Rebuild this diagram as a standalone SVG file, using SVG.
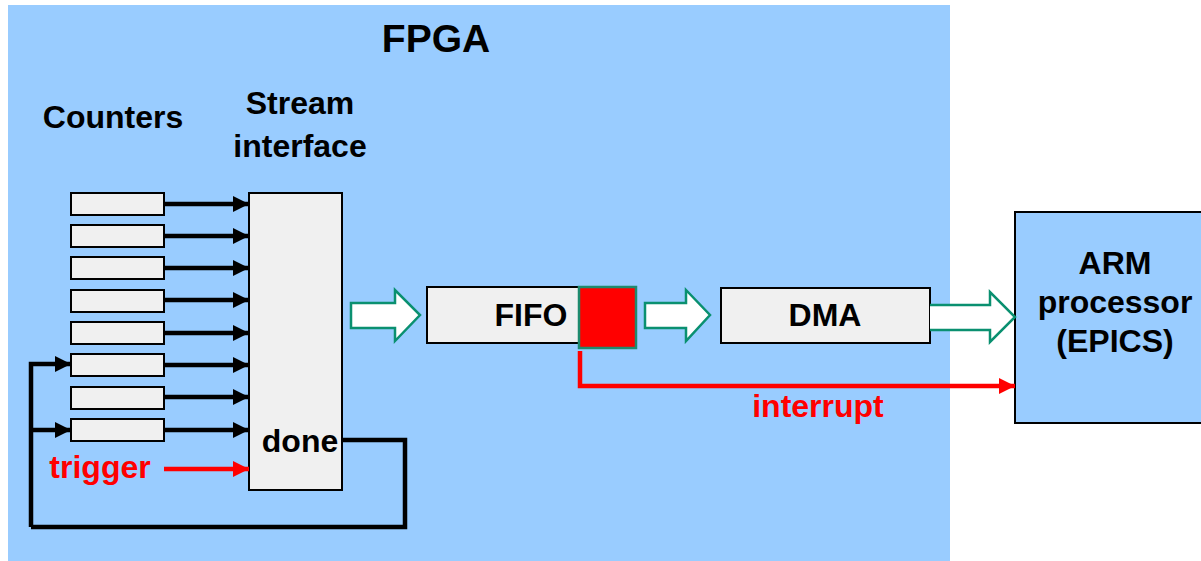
<svg xmlns="http://www.w3.org/2000/svg" width="1201" height="561" viewBox="0 0 1201 561">
<defs>
<style>
text{font-family:"Liberation Sans",Arial,sans-serif;font-weight:bold;font-size:32px;fill:#000}
.red{fill:#ff0000}
.box{fill:#f0f0f0;stroke:#000;stroke-width:2}
.blk{stroke:#000;stroke-width:4.5;fill:none}
.rl{stroke:#ff0000;stroke-width:4.5;fill:none}
.hollow{fill:#ffffff;stroke:#0a9070;stroke-width:2.5;stroke-linejoin:miter}
</style>
<marker id="ah" viewBox="0 0 16 16" refX="16" refY="8" markerWidth="16" markerHeight="16" markerUnits="userSpaceOnUse" orient="auto"><path d="M0,0 L16,8 L0,16 Z" fill="#000"/></marker>
<marker id="ahr" viewBox="0 0 16 16" refX="16" refY="8" markerWidth="16" markerHeight="16" markerUnits="userSpaceOnUse" orient="auto"><path d="M0,0 L16,8 L0,16 Z" fill="#ff0000"/></marker>
</defs>
<rect width="1201" height="561" fill="#ffffff"/>
<g id="fpga">
<rect x="8" y="5" width="942" height="560" fill="#99ccff"/>
<text x="436" y="52" text-anchor="middle" style="font-size:39px">FPGA</text>
</g>
<g id="labels">
<text x="113" y="128" text-anchor="middle">Counters</text>
<text x="300" y="114" text-anchor="middle">Stream</text>
<text x="300" y="157" text-anchor="middle">interface</text>
<text x="100" y="478" text-anchor="middle" class="red">trigger</text>
<text x="818" y="417" text-anchor="middle" class="red">interrupt</text>
</g>
<g id="counters">
<rect class="box" x="71" y="193" width="93" height="22"/>
<rect class="box" x="71" y="225" width="93" height="22"/>
<rect class="box" x="71" y="257" width="93" height="22"/>
<rect class="box" x="71" y="290" width="93" height="22"/>
<rect class="box" x="71" y="322" width="93" height="22"/>
<rect class="box" x="71" y="354" width="93" height="22"/>
<rect class="box" x="71" y="387" width="93" height="22"/>
<rect class="box" x="71" y="419" width="93" height="22"/>
</g>
<g id="stream">
<rect class="box" x="249" y="193" width="93" height="297"/>
<text x="300" y="452" text-anchor="middle">done</text>
</g>
<g id="fifo">
<rect class="box" x="427" y="287" width="156" height="56"/>
<text x="531" y="326" text-anchor="middle">FIFO</text>
<rect x="579" y="287" width="57" height="61" fill="#ff0000" stroke="#1e8a6e" stroke-width="2.5"/>
</g>
<g id="dma">
<rect class="box" x="721" y="288" width="209" height="55"/>
<text x="825" y="326" text-anchor="middle">DMA</text>
</g>
<g id="arm">
<rect x="1015" y="212" width="190" height="211" fill="#99ccff" stroke="#000" stroke-width="2"/>
<text x="1115" y="274" text-anchor="middle">ARM</text>
<text x="1115" y="313" text-anchor="middle">processor</text>
<text x="1115" y="352" text-anchor="middle">(EPICS)</text>
</g>
<g id="connectors">
<line class="blk" x1="164" y1="204" x2="249" y2="204" marker-end="url(#ah)"/>
<line class="blk" x1="164" y1="236" x2="249" y2="236" marker-end="url(#ah)"/>
<line class="blk" x1="164" y1="268" x2="249" y2="268" marker-end="url(#ah)"/>
<line class="blk" x1="164" y1="300" x2="249" y2="300" marker-end="url(#ah)"/>
<line class="blk" x1="164" y1="333" x2="249" y2="333" marker-end="url(#ah)"/>
<line class="blk" x1="164" y1="365" x2="249" y2="365" marker-end="url(#ah)"/>
<line class="blk" x1="164" y1="397" x2="249" y2="397" marker-end="url(#ah)"/>
<line class="blk" x1="164" y1="430" x2="249" y2="430" marker-end="url(#ah)"/>
<line class="rl" x1="164" y1="469" x2="249" y2="469" marker-end="url(#ahr)"/>
<polyline class="blk" points="342,440 405,440 405,527 31,527"/>
<polyline class="blk" points="31,527 31,364 71,364" marker-end="url(#ah)"/>
<line class="blk" x1="31" y1="430" x2="71" y2="430" marker-end="url(#ah)"/>
<polyline class="rl" points="580,351 580,386 1015,386" marker-end="url(#ahr)"/>
<path class="hollow" d="M351,303 L395,303 L395,290 L420,315 L395,341 L395,328 L351,328 Z"/>
<path class="hollow" d="M645,303 L686,303 L686,290 L710,315 L686,341 L686,328 L645,328 Z"/>
<path class="hollow" d="M930,305 L990,305 L990,292 L1015,317 L990,342 L990,330 L930,330"/>
</g>
</svg>
